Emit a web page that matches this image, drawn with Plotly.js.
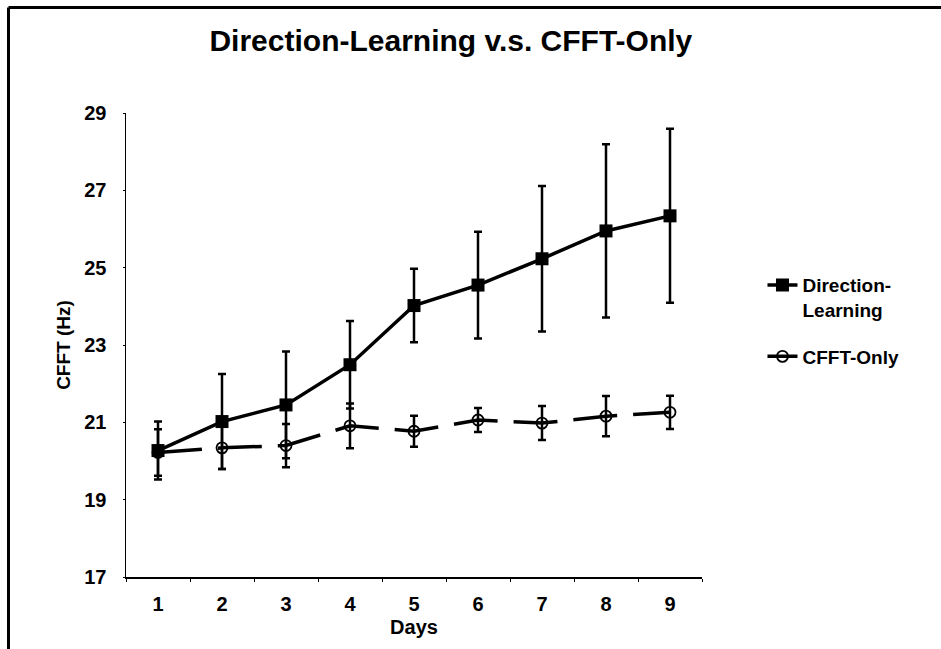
<!DOCTYPE html>
<html>
<head>
<meta charset="utf-8">
<script src="https://cdn.plot.ly/plotly-3.0.1.min.js"></script>
<style>
  html, body { margin: 0; padding: 0; background: #fff; }
  #chart { width: 941px; height: 649px; }
</style>
</head>
<body>
<div id="chart"></div>
<script>
const days = ['1', '2', '3', '4', '5', '6', '7', '8', '9'];
const dirLearning = [20.27, 21.02, 21.45, 22.49, 24.02, 24.55, 25.23, 25.95, 26.34];
const dirLearningErr = [0.75, 1.23, 1.38, 1.13, 0.95, 1.38, 1.88, 2.24, 2.25];
const cfftOnly = [20.22, 20.34, 20.40, 20.91, 20.77, 21.06, 20.98, 21.16, 21.26];
const cfftOnlyErr = [0.60, 0.55, 0.56, 0.58, 0.40, 0.31, 0.44, 0.52, 0.43];
const yTicks = [17, 19, 21, 23, 25, 27, 29];

const FONT = 'Liberation Sans, Arial, sans-serif';

const traces = [
  {
    x: days, y: dirLearning, name: 'Direction-<br>Learning', legendgroup: 'dl',
    type: 'scatter', mode: 'lines+markers',
    line: { color: '#000', width: 3.5 },
    marker: { symbol: 'square', size: 13, color: '#000' },
    error_y: { type: 'data', array: dirLearningErr, visible: true, color: '#000', thickness: 2.5, width: 4 }
  },
  {
    x: days, y: cfftOnly, name: 'CFFT-Only', legendgroup: 'co',
    type: 'scatter', mode: 'lines+markers',
    line: { color: '#000', width: 3.5, dash: '44px,16px' },
    marker: { symbol: 'circle-open', size: 11, color: '#000', line: { color: '#000', width: 1.8 } },
    error_y: { type: 'data', array: cfftOnlyErr, visible: true, color: '#000', thickness: 2.5, width: 4 }
  }
];

const layout = {
  width: 941, height: 649,
  margin: { l: 126, r: 239, t: 113, b: 72, pad: 0 },
  paper_bgcolor: '#fff', plot_bgcolor: '#fff',
  font: { family: FONT, color: '#000' },
  title: {
    text: '<b>Direction-Learning v.s. CFFT-Only</b>',
    font: { family: FONT, size: 30, color: '#000' },
    x: 0.564, xanchor: 'center', y: 0.937, yanchor: 'middle', xref: 'paper', yref: 'container'
  },
  xaxis: {
    type: 'category',
    range: [-0.5, 8.5],
    tickson: 'boundaries',
    showline: true, linecolor: '#000', linewidth: 2,
    ticks: 'outside', ticklen: 3, tickcolor: '#000', tickwidth: 1,
    showgrid: false, zeroline: false,
    tickfont: { family: FONT, size: 20, color: '#000', weight: 'bold' },
    ticklabelstandoff: 8,
    title: { text: '<b>Days</b>', font: { family: FONT, size: 20, color: '#000' }, standoff: 6 }
  },
  yaxis: {
    range: [17, 29],
    tickvals: yTicks,
    ticktext: yTicks.map(String),
    showline: true, linecolor: '#000', linewidth: 1.5,
    ticks: 'outside', ticklen: 2, tickcolor: '#000', tickwidth: 1,
    showgrid: false, zeroline: false,
    tickfont: { family: FONT, size: 20, color: '#000', weight: 'bold' },
    ticklabelstandoff: 12,
    title: { text: '<b>CFFT (Hz)</b>', font: { family: FONT, size: 19, color: '#000' }, standoff: 8 }
  },
  showlegend: true,
  legend: {
    x: 1.105, xanchor: 'left', y: 0.67, yanchor: 'top',
    font: { family: FONT, size: 19, color: '#000', weight: 'bold' },
    valign: 'top',
    tracegroupgap: 19,
    itemwidth: 30,
    bgcolor: 'rgba(0,0,0,0)'
  },
  shapes: [
    { type: 'line', xref: 'paper', yref: 'paper', x0: -0.204, x1: 1.42, y0: 1.2274, y1: 1.2274, line: { color: '#000', width: 3 } },
    { type: 'line', xref: 'paper', yref: 'paper', x0: -0.204, x1: -0.204, y0: 1.2274, y1: -0.16, line: { color: '#000', width: 3 } }
  ]
};

Plotly.newPlot('chart', traces, layout, { displayModeBar: false, staticPlot: true });
</script>
</body>
</html>
